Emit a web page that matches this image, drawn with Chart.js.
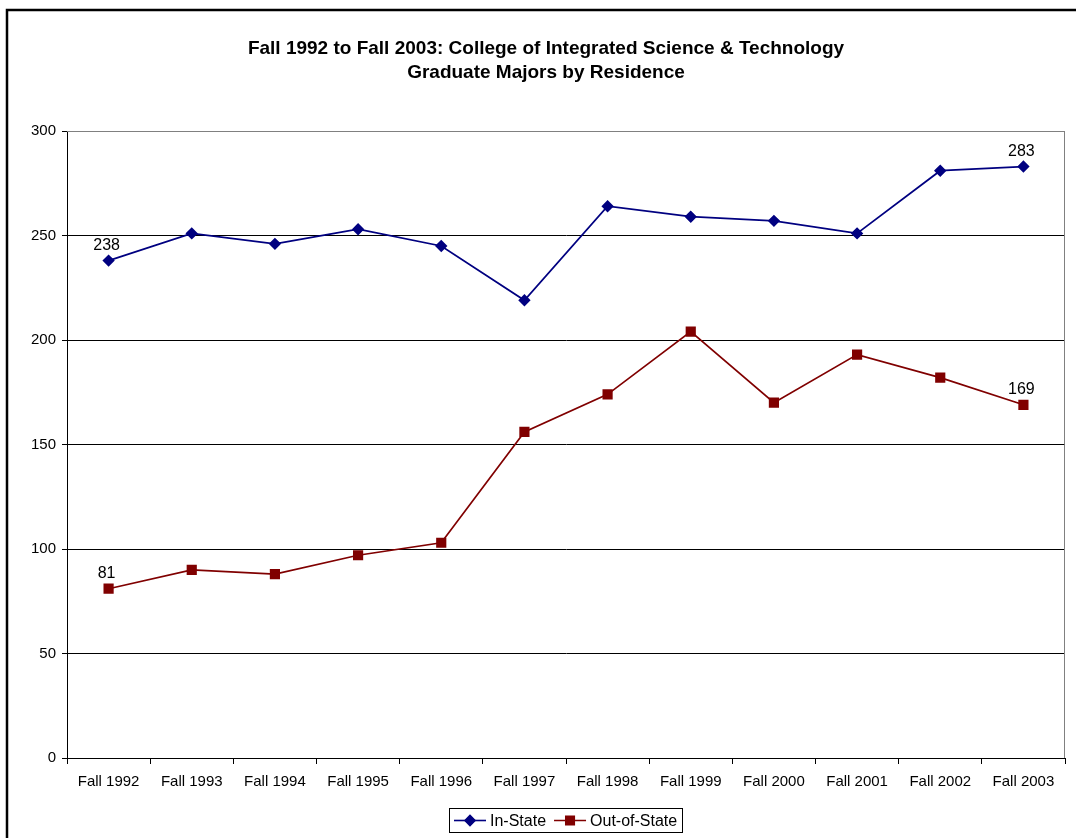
<!DOCTYPE html>
<html>
<head>
<meta charset="utf-8">
<title>CISAT Graduate Majors by Residence</title>
<script src="https://cdn.jsdelivr.net/npm/chart.js@4.4.1/dist/chart.umd.min.js"></script>
<style>
  html, body { margin: 0; padding: 0; background: #fff; }
  #wrap { width: 1076px; height: 838px; }
</style>
</head>
<body>
<div id="wrap"><canvas id="chart" width="1076" height="838"></canvas></div>
<script>
// chart data
const years = ["Fall 1992", "Fall 1993", "Fall 1994", "Fall 1995", "Fall 1996", "Fall 1997",
  "Fall 1998", "Fall 1999", "Fall 2000", "Fall 2001", "Fall 2002", "Fall 2003"];
const inState = [238, 251, 246, 253, 245, 219, 264, 259, 257, 251, 281, 283];
const outOfState = [81, 90, 88, 97, 103, 156, 174, 204, 170, 193, 182, 169];
const yTicks = [0, 50, 100, 150, 200, 250, 300];
const labeledPoints = [0, 11]; // first and last point get a value label
const titleLines = [
  "Fall 1992 to Fall 2003: College of Integrated Science & Technology",
  "Graduate Majors by Residence"
];
const seriesNames = ["In-State", "Out-of-State"];

const FONT = "'Liberation Sans', Arial, sans-serif";
const NAVY = "#000080";
const MAROON = "#800000";

// outer frame + title
const framePlugin = {
  id: "frame",
  beforeDraw(chart) {
    const ctx = chart.ctx;
    ctx.save();
    ctx.fillStyle = "#fff";
    ctx.fillRect(0, 0, chart.width, chart.height);
    ctx.strokeStyle = "#000";
    ctx.lineWidth = 2.5;
    ctx.beginPath();
    ctx.moveTo(7, chart.height + 5);
    ctx.lineTo(7, 10);
    ctx.lineTo(chart.width + 5, 10);
    ctx.stroke();

    ctx.fillStyle = "#000";
    ctx.font = "bold 19px " + FONT;
    ctx.textAlign = "center";
    ctx.textBaseline = "middle";
    ctx.fillText(titleLines[0], 546, 49);
    ctx.fillText(titleLines[1], 546, 73);
    ctx.restore();
  },
  afterDraw(chart) {
    // grey plot border on the right
    const ctx = chart.ctx;
    const a = chart.chartArea;
    ctx.save();
    ctx.strokeStyle = "#808080";
    ctx.lineWidth = 1;
    ctx.beginPath();
    ctx.moveTo(a.left, a.top + 0.5);
    ctx.lineTo(a.right - 0.5, a.top + 0.5);
    ctx.lineTo(a.right - 0.5, a.bottom);
    ctx.stroke();
    ctx.restore();
  }
};

// value labels on first / last points
const labelPlugin = {
  id: "pointLabels",
  afterDatasetsDraw(chart) {
    const ctx = chart.ctx;
    ctx.save();
    ctx.fillStyle = "#000";
    ctx.font = "16px " + FONT;
    ctx.textAlign = "center";
    ctx.textBaseline = "bottom";
    chart.data.datasets.forEach((ds, i) => {
      const meta = chart.getDatasetMeta(i);
      labeledPoints.forEach(idx => {
        const pt = meta.data[idx];
        ctx.fillText(String(ds.data[idx]), pt.x - 2, pt.y - 7);
      });
    });
    ctx.restore();
  }
};

// Excel-style legend box at the bottom
const legendPlugin = {
  id: "boxLegend",
  afterDraw(chart) {
    const ctx = chart.ctx;
    ctx.save();
    ctx.font = "16px " + FONT;
    const lineLen = 32, gapLine = 4, gapItem = 8, padX = 5;
    const items = chart.data.datasets.map(ds => ({
      ds: ds, w: lineLen + gapLine + ctx.measureText(ds.label).width
    }));
    let total = padX * 2 + items.reduce((s, it) => s + it.w, 0) + gapItem * (items.length - 1);
    const cx = 566, top = 808, h = 24;
    let x = Math.round(cx - total / 2);
    ctx.strokeStyle = "#000";
    ctx.lineWidth = 1;
    ctx.strokeRect(x + 0.5, top + 0.5, Math.round(total), h);
    const cy = top + h / 2 + 0.5;
    x += padX;
    items.forEach(it => {
      const ds = it.ds;
      ctx.strokeStyle = ds.borderColor;
      ctx.lineWidth = 1.6;
      ctx.beginPath();
      ctx.moveTo(x, cy);
      ctx.lineTo(x + lineLen, cy);
      ctx.stroke();
      Chart.helpers.drawPoint(ctx, {
        pointStyle: ds.pointStyle, radius: ds.pointRadius, borderWidth: 1, rotation: 0
      }, x + lineLen / 2, cy);
      ctx.fillStyle = ds.pointBackgroundColor;
      ctx.fill();
      ctx.fillStyle = "#000";
      ctx.textAlign = "left";
      ctx.textBaseline = "middle";
      ctx.fillText(ds.label, x + lineLen + gapLine, cy + 1);
      x += it.w + gapItem;
    });
    ctx.restore();
  }
};

const ctx = document.getElementById("chart").getContext("2d");
const chart = new Chart(ctx, {
  type: "line",
  data: {
    labels: years,
    datasets: [
      {
        label: seriesNames[0],
        data: inState,
        borderColor: NAVY,
        backgroundColor: NAVY,
        pointBackgroundColor: NAVY,
        pointBorderColor: NAVY,
        pointStyle: "rectRot",
        pointRadius: 5,
        borderWidth: 1.7,
        tension: 0,
        fill: false
      },
      {
        label: seriesNames[1],
        data: outOfState,
        borderColor: MAROON,
        backgroundColor: MAROON,
        pointBackgroundColor: MAROON,
        pointBorderColor: MAROON,
        pointStyle: "rect",
        pointRadius: 6,
        borderWidth: 1.7,
        tension: 0,
        fill: false
      }
    ]
  },
  options: {
    responsive: false,
    animation: false,
    layout: { padding: { top: 131, left: 0, right: 11, bottom: 40 } },
    plugins: {
      legend: { display: false },
      title: { display: false },
      tooltip: { enabled: false }
    },
    scales: {
      x: {
        type: "category",
        offset: true,
        grid: {
          offset: true,
          drawOnChartArea: false,
          drawTicks: true,
          tickLength: 6,
          color: "#000"
        },
        border: { color: "#000", width: 1 },
        ticks: {
          color: "#000",
          font: { family: FONT, size: 15 },
          padding: 9,
          maxRotation: 0,
          autoSkip: false
        },
        afterFit(scale) { scale.height = 40; }
      },
      y: {
        min: 0,
        max: 300,
        afterBuildTicks(scale) { scale.ticks = yTicks.map(v => ({ value: v })); },
        grid: {
          color: c => (c.tick && c.tick.value === 300 ? "#808080" : "#000"),
          tickColor: "#000",
          tickLength: 5
        },
        border: { color: "#000", width: 1 },
        ticks: {
          color: "#000",
          font: { family: FONT, size: 15 },
          padding: 6
        },
        afterFit(scale) { scale.width = 67; }
      }
    }
  },
  plugins: [framePlugin, labelPlugin, legendPlugin]
});
</script>
</body>
</html>
